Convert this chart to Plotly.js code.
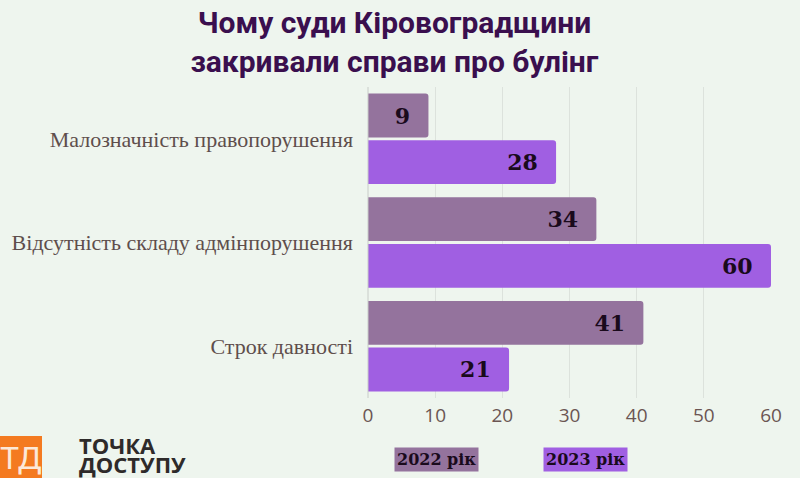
<!DOCTYPE html>
<html>
<head>
<meta charset="utf-8">
<script src="https://cdn.plot.ly/plotly-3.0.1.min.js"></script>
<style>html,body{margin:0;padding:0;background:#EEF5EE;}#chart{width:800px;height:478px;}</style>
</head>
<body>
<div id="chart"></div>
<script>
const categories = ["Малозначність правопорушення", "Відсутність складу адмінпорушення", "Строк давності"];
const values2022 = [9, 34, 41];
const values2023 = [28, 60, 21];
const seriesNames = ["2022 рік", "2023 рік"];
const xTicks = [0, 10, 20, 30, 40, 50, 60];
const titleText = "Чому суди Кіровоградщини<br>закривали справи про булінг";

const W = 800, H = 478;
const M = {l: 368, r: 29, t: 87, b: 80};
const pw = W - M.l - M.r, ph = H - M.t - M.b;
const px = x => (x - M.l) / pw;
const py = y => (H - M.b - y) / ph;

const c2022 = "#94739D", c2023 = "#A05FE2";
const serif = "Liberation Serif, DejaVu Serif, serif";
const valSerif = "DejaVu Serif, serif";

function barTrace(name, vals, color) {
  return {
    type: "bar", orientation: "h", name: name,
    y: categories, x: vals,
    marker: {color: color},
    text: vals.map(v => String(v) + "\u00a0\u00a0"),
    textposition: "inside", insidetextanchor: "end",
    textfont: {family: valSerif, size: 22, color: "#1A0A1C", weight: "bold"},
    hoverinfo: "x+y"
  };
}

const data = [barTrace(seriesNames[0], values2022, c2022), barTrace(seriesNames[1], values2023, c2023)];

function ann(x, y, text, font, extra) {
  return Object.assign({xref: "paper", yref: "paper", x: px(x), y: py(y), text: text, showarrow: false,
    xanchor: "center", yanchor: "middle", font: font}, extra || {});
}

const layout = {
  width: W, height: H,
  margin: M,
  paper_bgcolor: "#EEF5EE", plot_bgcolor: "#EEF5EE",
  barmode: "group", bargap: 0.1, bargroupgap: 0.06,
  barcornerradius: 3,
  showlegend: false,
  title: {text: titleText, x: 0.493, xref: "container", xanchor: "center", y: 0.932, yref: "container", yanchor: "top",
          font: {family: "Roboto, sans-serif", size: 30, color: "#3A0F4E", weight: "bold"}},
  xaxis: {range: [0, 60], tickvals: xTicks, showgrid: true, gridcolor: "#DCE2DC", gridwidth: 1,
          zeroline: false, showline: false, ticks: "", ticklabelstandoff: 4,
          tickfont: {family: "Open Sans, sans-serif", size: 19, color: "#6B5553"}, fixedrange: true},
  yaxis: {autorange: "reversed", showgrid: false, zeroline: false, showline: false, ticks: "",
          ticklabelstandoff: 14,
          tickfont: {family: serif, size: 22, color: "#5E4E4C"}, fixedrange: true},
  shapes: [
    {type: "rect", xref: "paper", yref: "paper", x0: px(0), x1: px(42), y0: py(478), y1: py(436),
     fillcolor: "#F47A20", line: {width: 0}},
    {type: "line", xref: "paper", yref: "paper", x0: 0, x1: 0, y0: 0, y1: 1, line: {color: "#C8CCC8", width: 1}}
  ],
  annotations: [
    ann(21, 458, "ТД", {family: "Roboto, sans-serif", size: 32, color: "#FCE8D8"}),
    ann(77, 445, "ТОЧКА", {family: "Open Sans, sans-serif", size: 22, color: "#2E2A2A", weight: "bold"}, {xanchor: "left"}),
    ann(77, 464, "ДОСТУПУ", {family: "Open Sans, sans-serif", size: 22, color: "#2E2A2A", weight: "bold"}, {xanchor: "left"}),
    ann(436, 459, seriesNames[0], {family: valSerif, size: 16, color: "#1A0A1C", weight: "bold"}, {bgcolor: c2022, borderpad: 2}),
    ann(585, 459, seriesNames[1], {family: valSerif, size: 16, color: "#1A0A1C", weight: "bold"}, {bgcolor: c2023, borderpad: 2})
  ]
};

Plotly.newPlot("chart", data, layout, {displayModeBar: false, staticPlot: true});
</script>
</body>
</html>
